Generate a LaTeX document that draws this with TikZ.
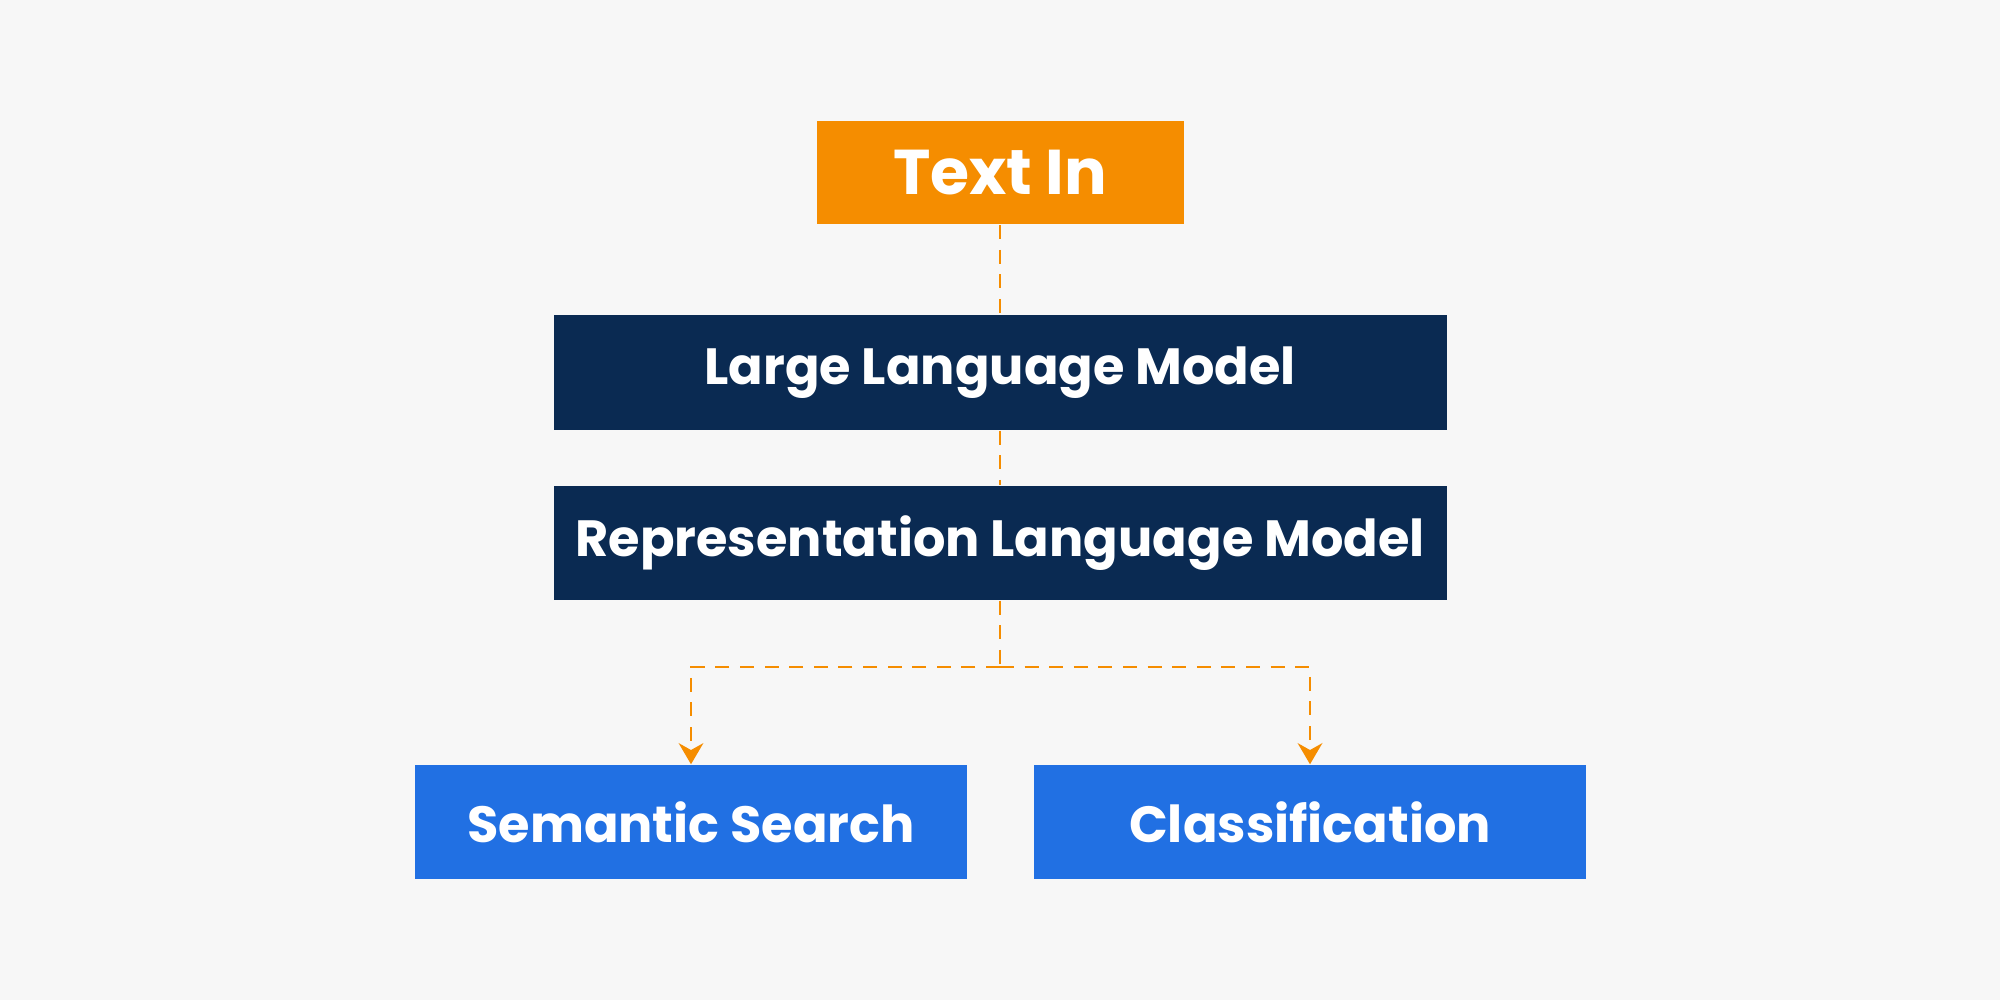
\documentclass[tikz,border=0pt]{standalone}
\usepackage{fontspec}
\setmainfont{Poppins}
\usetikzlibrary{positioning,arrows.meta}
\definecolor{bgcol}{HTML}{F7F7F7}
\definecolor{orng}{HTML}{F58D00}
\definecolor{navy}{HTML}{0A2A52}
\definecolor{bluebox}{HTML}{2170E3}
\tikzstyle{boxe} = [draw=none, text=white, font=\bfseries\fontsize{14.5}{17}\selectfont, inner sep=0pt]
\tikzstyle{liga} = [orng, dashed, dash pattern=on 4pt off 3pt, line width=0.8pt]

\begin{document}
\begin{tikzpicture}[>={Stealth[length=6pt,width=7pt]}]

    % background
    \fill [bgcol] (0,0) rectangle (20,10);
    \useasboundingbox (0,0) rectangle (20,10);

    % boxes
    \node [boxe, fill=orng, minimum width=3.67cm, minimum height=1.03cm, font=\bfseries\fontsize{18}{21}\selectfont] (textin) at (10,8.27) {Text In};
    \node [boxe, fill=navy, minimum width=8.93cm, minimum height=1.15cm] (llm) at (10,6.275) {Large Language Model};
    \node [boxe, fill=navy, minimum width=8.93cm, minimum height=1.14cm] (rlm) at (10,4.57) {Representation Language Model};
    \node [boxe, fill=bluebox, minimum width=5.52cm, minimum height=1.14cm] (search) at (6.91,1.78) {Semantic Search};
    \node [boxe, fill=bluebox, minimum width=5.52cm, minimum height=1.14cm] (classif) at (13.1,1.78) {Classification};

    % connectors
    \coordinate (split) at (10,3.33);
    \draw [liga] (textin) -- (llm);
    \draw [liga] (llm) -- (rlm);
    \draw [liga] (rlm) -- (split);
    \draw [liga, ->] (split) -| (search);
    \draw [liga, ->] (split) -| (classif);

\end{tikzpicture}
\end{document}
